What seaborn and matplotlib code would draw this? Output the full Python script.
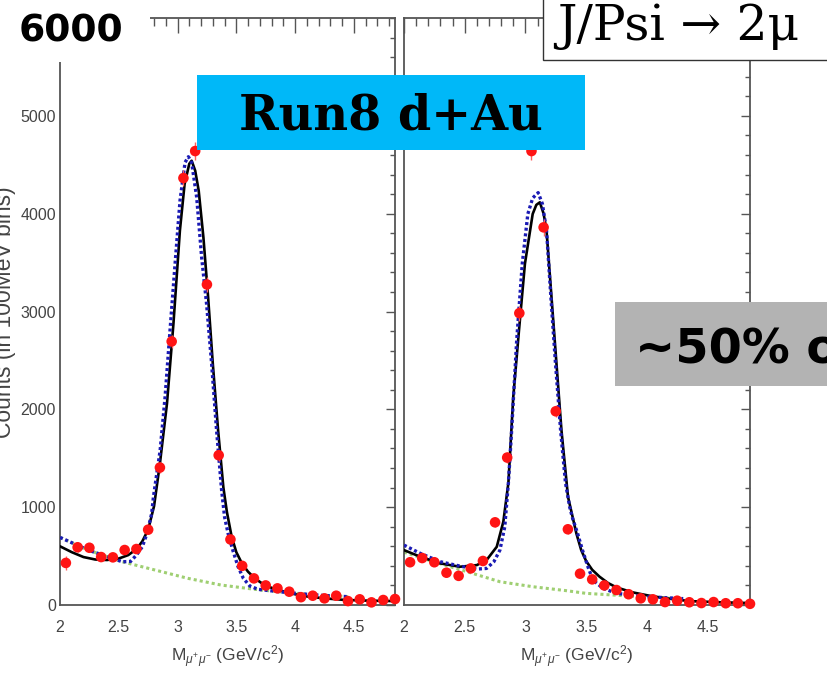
import matplotlib
matplotlib.use("Agg")
import matplotlib.pyplot as plt
from matplotlib.patches import Rectangle
from matplotlib.ticker import MultipleLocator
import pandas as pd
import seaborn as sns

# ---------------------------------------------------------------- data
# di-muon invariant mass, 100 MeV bin centres
mass_bins = [2.05, 2.15, 2.25, 2.35, 2.45, 2.55, 2.65, 2.75, 2.85, 2.95,
             3.05, 3.15, 3.25, 3.35, 3.45, 3.55, 3.65, 3.75, 3.85, 3.95,
             4.05, 4.15, 4.25, 4.35, 4.45, 4.55, 4.65, 4.75, 4.85]

counts_left = [430, 590, 585, 490, 487, 562, 572, 770, 1405, 2694,
               4364, 4640, 3276, 1531, 670, 400, 272, 200, 170, 136,
               80, 95, 68, 95, 40, 58, 27, 51, 61]
err_left = [70, 45, 45, 40, 40, 40, 40, 45, 55, 70,
            85, 90, 75, 55, 40, 30, 25, 22, 20, 18,
            15, 15, 13, 15, 10, 12, 8, 11, 12]

counts_right = [437, 480, 437, 330, 298, 374, 450, 845, 1507, 2983,
                4640, 3860, 1980, 774, 320, 262, 200, 153, 110, 68,
                58, 30, 44, 28, 20, 30, 18, 18, 12]
err_right = [40, 40, 40, 35, 35, 35, 40, 50, 60, 75,
             90, 85, 60, 45, 30, 28, 25, 22, 18, 15,
             14, 10, 12, 10, 8, 10, 8, 8, 7]

# total fit (solid black)
fit_left_x = [2.00, 2.10, 2.20, 2.30, 2.40, 2.50, 2.58, 2.65, 2.70, 2.75,
              2.80, 2.85, 2.91, 2.965, 3.02, 3.06, 3.10, 3.12, 3.15, 3.18,
              3.22, 3.26, 3.30, 3.345, 3.39, 3.42, 3.46, 3.50, 3.55, 3.60,
              3.66, 3.72, 3.80, 3.94, 4.08, 4.25, 4.42, 4.60, 4.85]
fit_left_y = [600, 540, 490, 465, 460, 475, 510, 570, 650, 770,
              1010, 1446, 2058, 2874, 3827, 4303, 4510, 4541, 4440, 4235,
              3758, 3146, 2466, 1786, 1200, 950, 700, 540, 420, 340,
              270, 220, 175, 125, 90, 68, 52, 45, 40]

fit_right_x = [2.00, 2.135, 2.30, 2.46, 2.60, 2.68, 2.764, 2.818, 2.86, 2.90,
               2.947, 2.996, 3.06, 3.09, 3.119, 3.15, 3.174, 3.215, 3.256, 3.297,
               3.351, 3.42, 3.46, 3.50, 3.55, 3.61, 3.68, 3.75, 3.88, 4.02,
               4.16, 4.35, 4.60, 4.85]
fit_right_y = [561, 493, 425, 391, 408, 459, 595, 850, 1250, 2126,
               2806, 3487, 3997, 4090, 4116, 4000, 3827, 3146, 2466, 1786,
               1105, 731, 560, 450, 360, 290, 225, 180, 130, 95,
               68, 40, 28, 20]

# signal + background alternative fit (dotted blue)
alt_left_x = [2.00, 2.24, 2.53, 2.60, 2.65, 2.70, 2.74, 2.78, 2.795, 2.852,
              2.894, 2.936, 2.979, 3.021, 3.064, 3.092, 3.12, 3.163, 3.205, 3.247,
              3.29, 3.332, 3.375, 3.40, 3.43, 3.47, 3.515, 3.56, 3.615, 3.685,
              3.94, 4.20, 4.45]
alt_left_y = [691, 561, 442, 445, 510, 595, 731, 935, 1105, 1582,
              2126, 2806, 3487, 4133, 4524, 4582, 4524, 4166, 3554, 3078,
              2466, 1786, 1173, 901, 731, 561, 391, 272, 194, 160,
              126, 100, 85]

alt_right_x = [2.00, 2.135, 2.30, 2.46, 2.60, 2.68, 2.74, 2.79, 2.83, 2.86,
               2.885, 2.928, 2.974, 3.02, 3.06, 3.105, 3.14, 3.174, 3.21, 3.248,
               3.29, 3.33, 3.365, 3.39, 3.43, 3.47, 3.515, 3.556, 3.64, 3.75,
               4.00, 4.30]
alt_right_y = [612, 527, 442, 398, 367, 374, 442, 561, 800, 1250,
               1750, 2700, 3487, 3997, 4160, 4215, 4100, 3827, 3146, 2466,
               1786, 1250, 1000, 880, 731, 561, 391, 255, 170, 119,
               85, 65]

# exponential-like background (dotted green)
bkg_left_x = [2.00, 2.24, 2.53, 2.81, 3.09, 3.37, 3.66, 3.94, 4.20, 4.45]
bkg_left_y = [691, 561, 442, 357, 272, 204, 160, 126, 100, 85]

bkg_right_x = [2.00, 2.25, 2.52, 2.79, 3.06, 3.34, 3.50, 3.75, 4.00, 4.30]
bkg_right_y = [540, 440, 340, 238, 187, 146, 119, 100, 80, 62]

y_ticks = [0, 1000, 2000, 3000, 4000, 5000]

# ---------------------------------------------------------------- style
sns.set_theme(style="white")
plt.rcParams["font.family"] = ["Liberation Sans", "DejaVu Sans"]
plt.rcParams["mathtext.fontset"] = "custom"
plt.rcParams["mathtext.rm"] = "Liberation Sans"
plt.rcParams["mathtext.it"] = "Liberation Sans:italic"

W, H = 828, 673
fig = plt.figure(figsize=(W / 100, H / 100), dpi=100)
fig.patch.set_facecolor("white")


def fx(px):
    return px / W


def fy(py):
    return 1 - py / H


ax_l = fig.add_axes([fx(60), fy(605), fx(395) - fx(60), fy(18) - fy(605)])
ax_r = fig.add_axes([fx(404), fy(605), fx(750) - fx(404), fy(18) - fy(605)])

AXIS_GREY = "#555555"
TEXT_GREY = "#444444"
RED = "#ff1414"
BLUE = "#1a1ab4"
GREEN = "#9fcf72"


def draw_panel(ax, counts, errs, fx_, fy_, ax_x, ax_y, bx, by):
    # background, then fits, then the binned data on top
    sns.lineplot(x=bx, y=by, ax=ax, color=GREEN, lw=2.2,
                 linestyle=(0, (1.0, 1.0)), estimator=None, sort=False, zorder=2)
    sns.lineplot(x=fx_, y=fy_, ax=ax, color="black", lw=1.9,
                 estimator=None, sort=False, zorder=3)
    sns.lineplot(x=ax_x, y=ax_y, ax=ax, color=BLUE, lw=2.4,
                 linestyle=(0, (0.9, 0.8)), estimator=None, sort=False, zorder=4)
    ax.errorbar(mass_bins, counts, yerr=errs, fmt="none", ecolor="#ff6060",
                elinewidth=1.0, capsize=0, zorder=5, clip_on=False)
    df = pd.DataFrame({"mass": mass_bins, "counts": counts})
    sns.scatterplot(data=df, x="mass", y="counts", ax=ax, color=RED, s=58,
                    edgecolor="none", zorder=6, clip_on=False, legend=False)

    ax.set_xlim(2.0, 4.85)
    ax.set_ylim(0, 6000)
    ax.xaxis.set_major_locator(MultipleLocator(0.5))
    ax.xaxis.set_minor_locator(MultipleLocator(0.1))
    ax.yaxis.set_major_locator(MultipleLocator(1000))
    ax.yaxis.set_minor_locator(MultipleLocator(200))
    ax.set_xticks([2, 2.5, 3, 3.5, 4, 4.5])
    ax.set_xticklabels(["2", "2.5", "3", "3.5", "4", "4.5"])
    ax.tick_params(axis="both", which="both", direction="in", top=True,
                   right=True, color=AXIS_GREY, labelcolor=TEXT_GREY,
                   labelsize=11.5, width=1.0)
    ax.tick_params(axis="x", which="major", length=10.5, pad=11)
    ax.tick_params(axis="x", which="minor", length=5.5)
    ax.tick_params(axis="y", which="major", length=6.5, pad=3)
    ax.tick_params(axis="y", which="minor", length=3.5)
    for sp in ax.spines.values():
        sp.set_color(AXIS_GREY)
        sp.set_linewidth(1.3)
    ax.set_xlabel(r"M$_{\mu^{+}\mu^{-}}$ (GeV/c$^{2}$)", fontsize=12.5,
                  color=TEXT_GREY, labelpad=6)
    ax.set_ylabel("")
    ax.grid(False)


draw_panel(ax_l, counts_left, err_left, fit_left_x, fit_left_y,
           alt_left_x, alt_left_y, bkg_left_x, bkg_left_y)
draw_panel(ax_r, counts_right, err_right, fit_right_x, fit_right_y,
           alt_right_x, alt_right_y, bkg_right_x, bkg_right_y)

ax_l.set_yticks(y_ticks)
ax_l.set_yticklabels([str(v) for v in y_ticks])
ax_l.yaxis.set_minor_locator(MultipleLocator(200))
ax_r.set_yticks(y_ticks + [6000])
ax_r.tick_params(axis="y", labelleft=False)

fig.text(fx(16), fy(312), "Counts (in 100MeV bins)", rotation=90,
         ha="right", va="center", fontsize=16.5, color=TEXT_GREY)

# ---------------------------------------------------------------- annotations
# top-left scale value
fig.add_artist(Rectangle((0, fy(62)), fx(150), 1 - fy(62), transform=fig.transFigure,
                         facecolor="white", edgecolor="none", zorder=10))
fig.text(fx(19), fy(42), "6000", fontsize=27.2, fontweight="bold", color="black",
         family="DejaVu Sans", ha="left", va="baseline", zorder=11)

# decay channel box
fig.add_artist(Rectangle((fx(543), fy(60)), fx(300), fy(-10) - fy(60),
                         transform=fig.transFigure, facecolor="white",
                         edgecolor="#333333", lw=1.0, zorder=10))
fig.text(fx(557), fy(40), "J/Psi \u2192 2\u03bc", fontsize=35, family="DejaVu Serif",
         color="black", ha="left", va="baseline", zorder=11)

# run label
fig.add_artist(Rectangle((fx(197), fy(150)), fx(585) - fx(197), fy(75) - fy(150),
                         transform=fig.transFigure, facecolor="#00b8f8",
                         edgecolor="none", zorder=10))
fig.text(fx(391), fy(130), "Run8 d+Au", fontsize=34.4, fontweight="bold",
         color="black", family="DejaVu Serif", ha="center", va="baseline", zorder=11)

# grey note box
fig.add_artist(Rectangle((fx(615), fy(386)), fx(300), fy(302) - fy(386),
                         transform=fig.transFigure, facecolor="#b3b3b3",
                         edgecolor="none", zorder=10))
fig.text(fx(635), fy(363), "~50% o", fontsize=34.5, fontweight="bold",
         color="black", family="DejaVu Sans", ha="left", va="baseline", zorder=11)

fig.savefig("out.png", dpi=100, facecolor="white")
